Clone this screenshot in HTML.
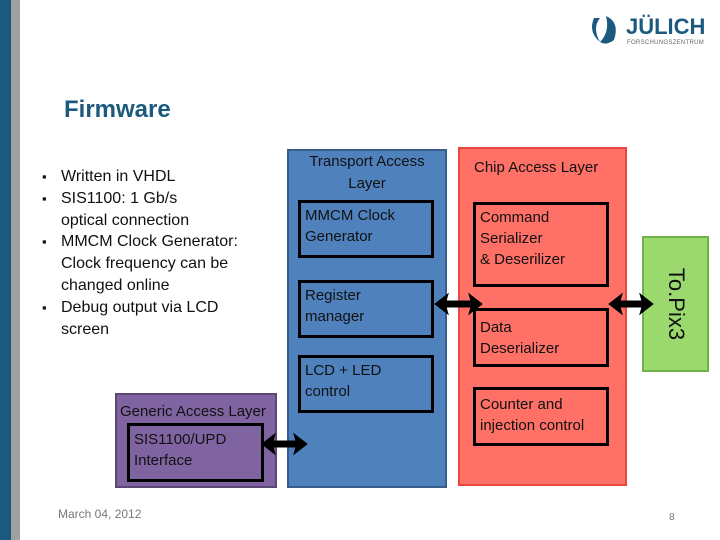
<!DOCTYPE html>
<html><head><style>
body{margin:0;width:720px;height:540px;position:relative;background:#fff;overflow:hidden;font-family:"Liberation Sans",sans-serif}
.a{position:absolute;box-sizing:border-box}
.c{font-family:"Liberation Sans",sans-serif;font-size:15px;line-height:21px;color:#111}
.in{border:3px solid #000;padding:2px 4px}
ul{margin:0;padding:0;list-style:none}
li{position:relative;padding-left:19px;white-space:nowrap}
li:before{content:"▪";position:absolute;left:0;top:0;font-size:13px}
</style></head><body>
<div class="a" style="left:0;top:0;width:11px;height:540px;background:#1b5a7e"></div>
<div class="a" style="left:11px;top:0;width:9px;height:540px;background:#a0a0a0"></div>
<div class="a" style="left:64px;top:96px;font-size:24px;font-weight:bold;color:#1b5a7e">Firmware</div>
<svg class="a" style="left:586px;top:12px" width="40" height="36"><path d="M8 6 Q2 20 14 30 Q6 16 14 6Z M20 4 Q34 10 28 28 Q20 34 14 30 Q24 20 20 4Z" fill="#1b5a7e"/></svg>
<div class="a" style="left:626px;top:14px;font-size:22px;font-weight:bold;color:#1b5a7e">JÜLICH</div>
<div class="a" style="left:627px;top:40px;font-size:6px;color:#666;letter-spacing:.3px">FORSCHUNGSZENTRUM</div>
<ul class="a" style="left:42px;top:166px;font-size:16px;line-height:21.8px;color:#111">
<li>Written in VHDL</li>
<li>SIS1100: 1 Gb/s<br>optical connection</li>
<li>MMCM Clock Generator:<br>Clock frequency can be<br>changed online</li>
<li>Debug output via LCD<br>screen</li>
</ul>
<div class="a c" style="left:287px;top:149px;width:160px;height:339px;background:#4f81bd;border:2px solid #385d8a;text-align:center;line-height:22px">Transport Access<br>Layer</div>
<div class="a c in" style="left:298px;top:200px;width:136px;height:58px">MMCM Clock<br>Generator</div>
<div class="a c in" style="left:298px;top:280px;width:136px;height:58px">Register<br>manager</div>
<div class="a c in" style="left:298px;top:355px;width:136px;height:58px">LCD + LED<br>control</div>
<div class="a c" style="left:458px;top:147px;width:169px;height:339px;background:#ff7066;border:2px solid #e6483e;padding:8px 0 0 14px">Chip Access Layer</div>
<div class="a c in" style="left:473px;top:202px;width:136px;height:85px">Command<br>Serializer<br>&amp; Deserilizer</div>
<div class="a c in" style="left:473px;top:308px;width:136px;height:59px;padding-top:6px">Data<br>Deserializer</div>
<div class="a c in" style="left:473px;top:387px;width:136px;height:59px;padding-top:4px">Counter and<br>injection control</div>
<div class="a" style="left:642px;top:236px;width:67px;height:136px;background:#9bd86e;border:2px solid #71b146"></div>
<div class="a" style="left:676px;top:304px;transform:translate(-50%,-50%) rotate(90deg);font-size:22px;color:#111;white-space:nowrap">To.Pix3</div>
<div class="a c" style="left:115px;top:393px;width:162px;height:95px;background:#8064a2;border:2px solid #5c4776;padding:6px 0 0 3px">Generic Access Layer</div>
<div class="a c in" style="left:127px;top:423px;width:137px;height:59px;padding-top:3px">SIS1100/UPD<br>Interface</div>
<svg class="a" style="left:0;top:0" width="720" height="540">
<g fill="#000" stroke="#000">
<path d="M435 304 L448 294 L446 301 L471 301 L469 294 L482 304 L469 314 L471 307 L446 307 L448 314Z"/>
<path d="M609 304 L622 294 L620 301 L642 301 L640 294 L653 304 L640 314 L642 307 L620 307 L622 314Z"/>
<path d="M262 444 L275 434 L273 441 L296 441 L294 434 L307 444 L294 454 L296 447 L273 447 L275 454Z"/>
</g></svg>
<div class="a" style="left:58px;top:507px;font-size:12px;color:#777">March 04, 2012</div>
<div class="a" style="left:669px;top:512px;font-size:10px;color:#777">8</div>
</body></html>
